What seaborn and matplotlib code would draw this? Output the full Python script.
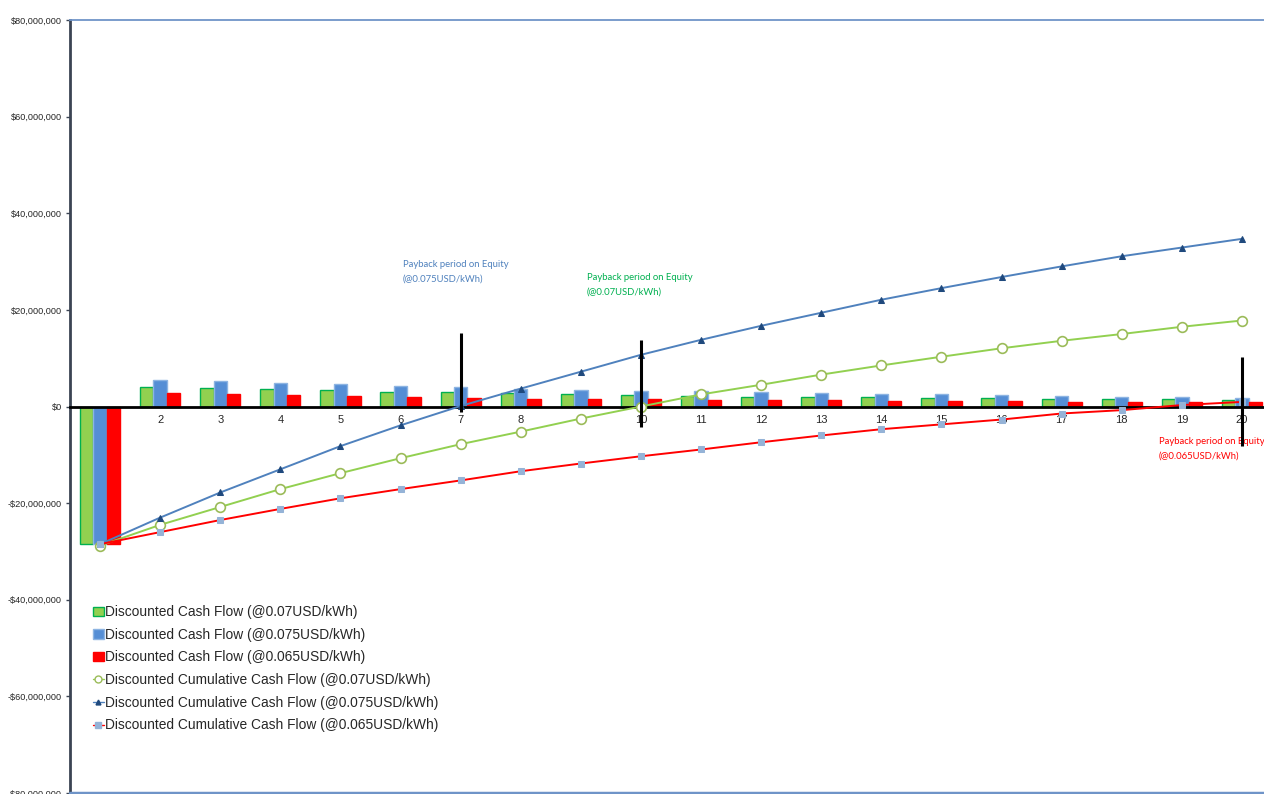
import numpy as np
import pandas as pd
import matplotlib
matplotlib.use("Agg")
import matplotlib.pyplot as plt
import seaborn as sns
from matplotlib.patches import Patch
from matplotlib.lines import Line2D
from matplotlib.ticker import FuncFormatter

# ---------------- data ----------------
years = list(range(1, 21))
dcf_070 = [-28.5, 4.0, 3.9, 3.6, 3.4, 3.0, 2.95, 2.75, 2.55, 2.4, 2.2, 2.05, 2.0, 1.9, 1.8, 1.7, 1.6, 1.5, 1.45, 1.3]
dcf_075 = [-28.5, 5.4, 5.2, 4.9, 4.6, 4.3, 4.0, 3.65, 3.45, 3.3, 3.15, 2.9, 2.75, 2.6, 2.5, 2.4, 2.2, 2.05, 1.9, 1.7]
dcf_065 = [-28.5, 2.7, 2.5, 2.35, 2.1, 1.9, 1.8, 1.65, 1.5, 1.5, 1.4, 1.3, 1.25, 1.2, 1.15, 1.1, 1.0, 0.9, 0.9, 0.9]
cum_070 = [-28.8, -24.5, -20.8, -17.1, -13.8, -10.7, -7.8, -5.2, -2.5, 0.0, 2.5, 4.5, 6.6, 8.5, 10.3, 12.05, 13.6, 15.0, 16.5, 17.8]
cum_075 = [-28.5, -23.0, -17.8, -13.0, -8.2, -3.9, 0.1, 3.7, 7.2, 10.7, 13.8, 16.7, 19.4, 22.1, 24.5, 26.8, 29.0, 31.1, 32.9, 34.7]
cum_065 = [-28.5, -26.0, -23.5, -21.2, -19.0, -17.1, -15.3, -13.4, -11.8, -10.3, -8.9, -7.4, -6.0, -4.7, -3.7, -2.7, -1.45, -0.75, 0.3, 0.95]
bar_labels = ["Discounted Cash Flow (@0.07USD/kWh)",
              "Discounted Cash Flow (@0.075USD/kWh)",
              "Discounted Cash Flow (@0.065USD/kWh)"]
line_labels = ["Discounted Cumulative Cash Flow (@0.07USD/kWh)",
               "Discounted Cumulative Cash Flow (@0.075USD/kWh)",
               "Discounted Cumulative Cash Flow (@0.065USD/kWh)"]
payback_years = [7, 10, 20]
payback_top = [15.3, 13.8, 10.3]
payback_bottom = [-1.2, -4.3, -8.1]
payback_texts = ["Payback period on Equity\n(@0.075USD/kWh)",
                 "Payback period on Equity\n(@0.07USD/kWh)",
                 "Payback period on Equity\n(@0.065USD/kWh)"]
yticks = list(range(-80, 81, 20))
M = 1e6

# ---------------- style ----------------
sns.set_theme(style="white")
plt.rcParams["font.family"] = ["Liberation Sans", "DejaVu Sans"]

bar_colors = ["#92D050", "#558ED5", "#FF0000"]
bar_edges = ["#00B050", "#8DB4E2", "#FF0000"]
line_colors = ["#92D050", "#4F81BD", "#FF0000"]

fig = plt.figure(figsize=(12.64, 7.94), dpi=100)
ax = fig.add_axes([70 / 1264, 1 / 794, 1202 / 1264, 773 / 794])

df = pd.DataFrame({
    "year": years * 3,
    "value": [v * M for v in dcf_070 + dcf_075 + dcf_065],
    "series": [bar_labels[0]] * 20 + [bar_labels[1]] * 20 + [bar_labels[2]] * 20,
})
sns.barplot(data=df, x="year", y="value", hue="series", hue_order=bar_labels,
            palette=bar_colors, width=0.67, ax=ax, legend=False, saturation=1,
            linewidth=1, zorder=1)
for cont, ec in zip(ax.containers, bar_edges):
    for p in cont:
        p.set_edgecolor(ec)

xpos = np.arange(len(years))
sns.lineplot(x=xpos, y=np.array(cum_070) * M, ax=ax, color=line_colors[0], lw=1.4,
             marker="o", markersize=7, markerfacecolor="white",
             markeredgecolor="#9BBB59", markeredgewidth=1.2, zorder=4)
sns.lineplot(x=xpos, y=np.array(cum_075) * M, ax=ax, color=line_colors[1], lw=1.4,
             marker="^", markersize=4, markerfacecolor="#1F497D",
             markeredgecolor="#1F497D", zorder=4)
sns.lineplot(x=xpos, y=np.array(cum_065) * M, ax=ax, color=line_colors[2], lw=1.4,
             marker="s", markersize=4.5, markerfacecolor="#95B3D7",
             markeredgecolor="#95B3D7", zorder=4)

# payback vertical lines
for yr, top, bot in zip(payback_years, payback_top, payback_bottom):
    ax.vlines(years.index(yr), bot * M, top * M, color="black", lw=2.2, zorder=5)

ann_font = ["Lato", "DejaVu Sans"]
ann_kw = dict(fontsize=6.8, family=ann_font, va="center", ha="left", linespacing=1.8)
ax.text(years.index(7) - 0.96, 27.9 * M, payback_texts[0], color="#4F81BD", **ann_kw)
ax.text(years.index(10) - 0.9, 25.2 * M, payback_texts[1], color="#00B050", **ann_kw)
ax.text(years.index(20) - 1.38, -8.8 * M, payback_texts[2], color="#FF0000", **ann_kw)

# axes
ax.set_xlim(-0.5, len(years) - 0.5)
ax.set_ylim(-80 * M, 80 * M)
ax.set_yticks([t * M for t in yticks])
ax.yaxis.set_major_formatter(FuncFormatter(
    lambda v, p: ("-$" if v < 0 else "$") + f"{abs(v):,.0f}"))
ax.tick_params(axis="y", labelsize=6.6, length=3, width=1, left=True,
               color="#3B4453", pad=3)
ax.set_xticks(xpos)
ax.set_xticklabels([str(y) for y in years])
ax.tick_params(axis="x", labelsize=8, length=0, pad=6)
ax.set_xlabel("")
ax.set_ylabel("")

ax.spines["bottom"].set_position(("data", 0))
ax.spines["bottom"].set_color("black")
ax.spines["bottom"].set_linewidth(2)
ax.spines["bottom"].set_zorder(3)
ax.spines["left"].set_color("#3B4453")
ax.spines["left"].set_linewidth(2)
ax.spines["top"].set_color("#6F94C8")
ax.spines["top"].set_linewidth(1.3)
ax.spines["right"].set_visible(False)
ax.axhline(-80 * M, color="#6F94C8", lw=2.5, clip_on=False, zorder=3)
for lbl in ax.get_xticklabels():
    lbl.set_zorder(6)

handles = [
    Patch(facecolor=bar_colors[0], edgecolor=bar_edges[0], lw=1),
    Patch(facecolor=bar_colors[1], edgecolor=bar_edges[1], lw=1),
    Patch(facecolor=bar_colors[2], edgecolor=bar_edges[2], lw=1),
    Line2D([], [], color=line_colors[0], lw=1, marker="o", markersize=5,
           markerfacecolor="white", markeredgecolor="#9BBB59"),
    Line2D([], [], color=line_colors[1], lw=1, marker="^", markersize=3.5,
           markerfacecolor="#1F497D", markeredgecolor="#1F497D"),
    Line2D([], [], color=line_colors[2], lw=1, marker="s", markersize=4,
           markerfacecolor="#95B3D7", markeredgecolor="#95B3D7"),
]
ax.legend(handles, bar_labels + line_labels, loc="upper left",
          bbox_to_anchor=(0.019, 0.243), frameon=False, fontsize=9.9,
          handlelength=0.8, handleheight=0.7, handletextpad=0.12,
          labelspacing=0.63, borderaxespad=0, borderpad=0)

fig.savefig("out.png", dpi=100)
